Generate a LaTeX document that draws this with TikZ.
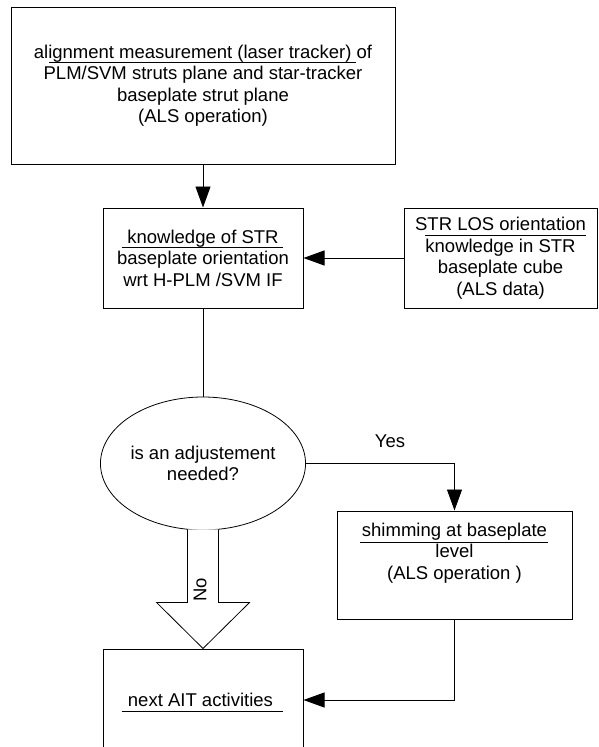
\documentclass[tikz,border=0pt]{standalone}
\usepackage{fontspec}
\setmainfont{Liberation Sans}
\usetikzlibrary{arrows.meta,positioning,shapes.geometric,calc}
\tikzset{
  box/.style={draw, line width=1pt, align=center, inner sep=0pt, font=\fontsize{18.5}{21.5}\selectfont},
  decision/.style={draw, ellipse, line width=0.8pt, align=center, inner sep=0pt, minimum width=202pt, minimum height=133pt, font=\fontsize{18.5}{21.5}\selectfont},
  flow/.style={-{Triangle[length=21pt,width=15pt]}, line width=0.9pt},
  link/.style={line width=0.9pt},
  hollow/.style={draw, line width=0.8pt, fill=white, line join=miter},
  uline/.style={line width=0.9pt},
  lbl/.style={font=\fontsize{18.5}{21.5}\selectfont, inner sep=0pt}
}

\begin{document}
\begin{tikzpicture}[x=1pt,y=-1pt]
  \useasboundingbox (0,0) rectangle (598,747);
  \clip (0,0) rectangle (598,747);

  \node[box, minimum width=384pt, minimum height=157pt] (measure) at (203,85.5) {
    alignment measurement (laser tracker) of\\
    PLM/SVM struts plane and star-tracker\\
    baseplate strut plane\\
    (ALS operation)
  };
  \node[box, minimum width=200pt, minimum height=100pt] (knowledge) at (203,258) {
    knowledge of STR\\
    baseplate orientation\\
    wrt H-PLM /SVM IF
  };
  \node[box, minimum width=193pt, minimum height=100pt] (losdata) at (500.5,258) {
    STR LOS orientation\\
    knowledge in STR\\
    baseplate cube\\
    (ALS data)
  };
  \node[decision] (adjust) at (203,463.5) {
    is an adjustement\\
    needed?
  };
  \node[box, minimum width=235pt, minimum height=108pt] (shimming) at (454.5,565) {
    shimming at baseplate\\
    level\\
    (ALS operation )\\
    \strut
  };
  \node[box, minimum width=200pt, minimum height=102pt] (nextait) at (203,700) {
    next AIT activities
  };

  % underlines below the first text lines
  \draw[uline] (49,62) -- (356,62);
  \draw[uline] (122,247) -- (283,247);
  \draw[uline] (425,235) -- (586,235);
  \draw[uline] (360,542) -- (548,542);
  \draw[uline] (122,711) -- (283,711);

  \draw[flow] (measure.south) -- (knowledge.north);
  \draw[flow] (losdata.west) -- (knowledge.east);
  \draw[link] (knowledge.south) -- (adjust.north);
  \draw[flow] (adjust.east) -| (shimming.north);
  \node[lbl] (yes) at (390,441) {Yes};
  \draw[flow] (shimming.south) |- (nextait.east);

  % wide hollow arrow for the No branch
  \draw[hollow] ($(adjust.south)+(-15.5,-1)$) -- ++(0,73) -- ++(-31,0)
    -- (nextait.north) -- ++(46.5,-46) -- ++(-31,0) -- ($(adjust.south)+(15.5,-1)$);
  \node[lbl, rotate=90] (no) at (200,590) {No};
\end{tikzpicture}
\end{document}
